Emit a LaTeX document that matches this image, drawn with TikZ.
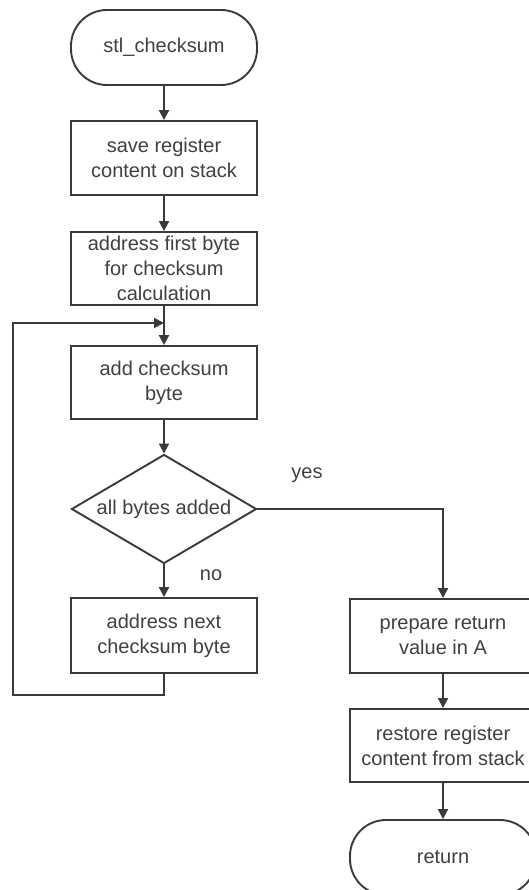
\documentclass[tikz,border=0pt]{standalone}
\usepackage{fontspec}
\setmainfont{Liberation Sans}
\usetikzlibrary{arrows.meta,shapes.geometric}

\definecolor{ink}{HTML}{3A3A3A}
\definecolor{txt}{HTML}{404040}

\tikzset{
  base/.style={draw=ink, line width=1.9pt, text=txt, align=center,
               font=\fontsize{20}{25}\selectfont, inner sep=0pt},
  process/.style={base, rectangle, minimum width=186pt, minimum height=74pt},
  terminal/.style={base, rectangle, rounded corners=36pt,
                   minimum width=186pt, minimum height=75pt},
  decision/.style={base, diamond, minimum width=185pt, minimum height=109pt},
  flow/.style={draw=ink, line width=1.9pt, -{Triangle[width=10pt,length=10pt]}},
  plain/.style={draw=ink, line width=1.9pt},
  tag/.style={text=txt, font=\fontsize{20}{25}\selectfont, inner sep=0pt}
}

\begin{document}
\begin{tikzpicture}[x=1pt, y=-1pt]
  \useasboundingbox (0,0) rectangle (528,890);

  % main column
  \node[terminal] (start) at (164,47.5) {stl\_checksum};
  \node[process]  (save)  at (164,158) {save register\\content on stack};
  \node[process, minimum height=73pt] (first) at (164,268.5)
        {address first byte\\for checksum\\calculation};
  \node[process, minimum height=73pt] (add) at (164,382.5) {add checksum\\byte};
  \node[decision, label={[tag]center:all bytes added}] (test) at (164,509) {};
  \node[process, minimum height=75pt] (next) at (164,635.5)
        {address next\\checksum byte};

  % exit column
  \node[process]  (prep)    at (443,636) {prepare return\\value in A};
  \node[process, minimum height=73pt] (restore) at (443,745.5)
        {restore register\\content from stack};
  \node[terminal] (ret) at (443,857.5) {return};

  % branch labels
  \node[tag] (yes) at (307,475) {yes};
  \node[tag] (no)  at (211,575) {no};

  % loop re-entry point
  \coordinate (join) at (164,323);
  \coordinate (loopL) at (13,695);

  % connectors
  \draw[flow] (start) -- (save);
  \draw[flow] (save) -- (first);
  \draw[plain] (first.south) -- (join);
  \draw[flow] (join) -- (add.north);
  \draw[flow] (add) -- (test.north);
  \draw[flow] (test.south) -- (next.north);
  \draw[flow] (next.south) |- (loopL) |- (join);
  \draw[flow] (test.east) -| (prep.north);
  \draw[flow] (prep) -- (restore);
  \draw[flow] (restore) -- (ret);
\end{tikzpicture}
\end{document}
